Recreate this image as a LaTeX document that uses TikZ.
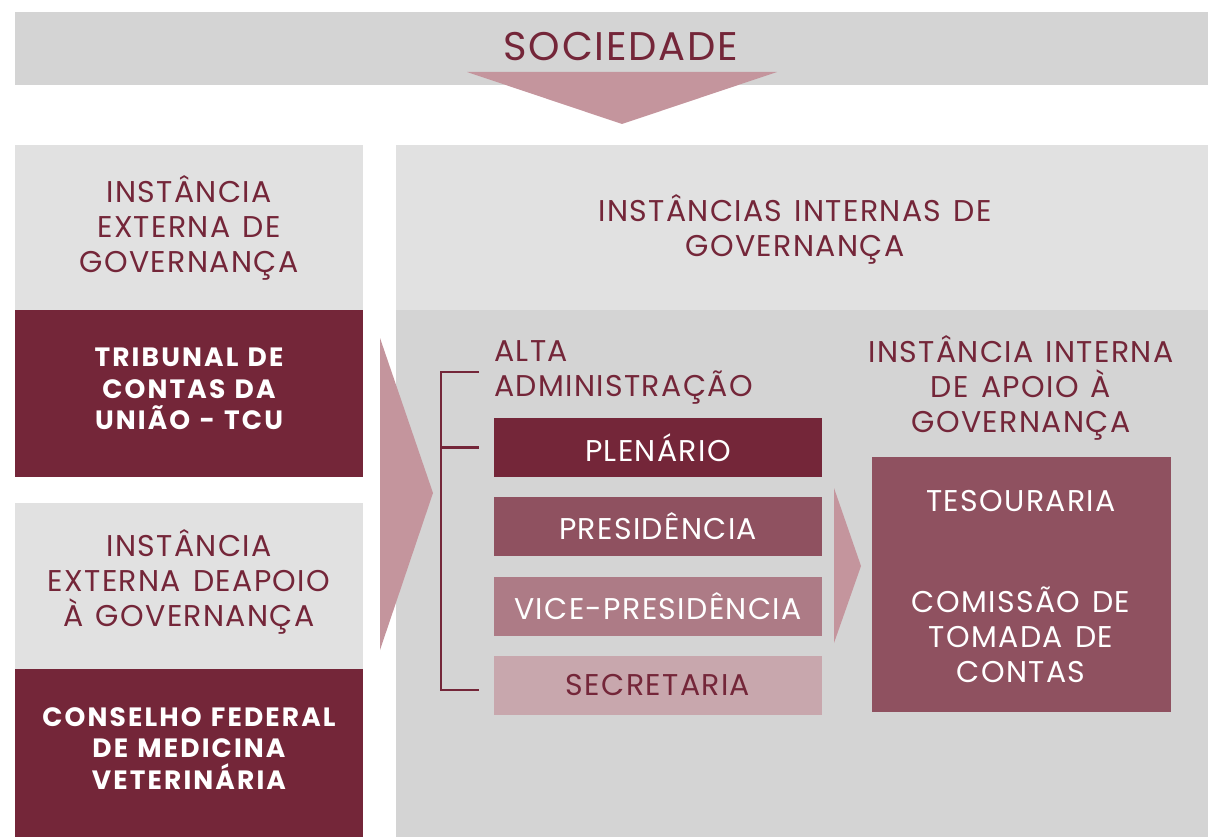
\documentclass[tikz,border=0pt]{standalone}
\usepackage{fontspec}
\setmainfont{Poppins}[LetterSpace = 4.5, WordSpace = 1.3]
\newfontfamily\negrito{Poppins}[LetterSpace = 8, WordSpace = 1.2]

\definecolor{vinho}{HTML}{742639}
\definecolor{vinhomedio}{HTML}{8F5160}
\definecolor{vinhoclaro}{HTML}{AD7B86}
\definecolor{rosa}{HTML}{C8A7AD}
\definecolor{seta}{HTML}{C4959D}
\definecolor{cinza}{HTML}{D4D4D4}
\definecolor{cinzaclaro}{HTML}{E1E1E1}

\tikzstyle{rotulo} = [text = vinho, align = center, inner sep = 0pt, font = \fontsize{30}{35}\selectfont]
\tikzstyle{forte}  = [rotulo, text = white, font = \fontsize{26.5}{31.5}\negrito\bfseries]
\tikzstyle{caixa}  = [rotulo, text = white, minimum width = 328pt, minimum height = 59pt]
\tikzstyle{chave}  = [draw = vinho, line width = 2.2pt]

\begin{document}
\begin{tikzpicture}[x = 1pt, y = -1pt]
        \useasboundingbox (0, 0) rectangle (1208, 837);

        % Sociedade
        \fill[cinza] (15, 12) rectangle (1208, 85);
        \fill[seta] (467, 72) -- (777, 72) -- (622, 124) -- cycle;
        \node (sociedade) at (621, 47) [rotulo, font = \fontsize{40}{45}\selectfont] {SOCIEDADE};

        % Instancias externas
        \fill[cinzaclaro] (15, 145) rectangle (363, 310);
        \fill[vinho]      (15, 310) rectangle (363, 477);
        \fill[cinzaclaro] (15, 503) rectangle (363, 669);
        \fill[vinho]      (15, 669) rectangle (363, 837);
        \node (externa)  at (189, 227.5) [rotulo] {INSTÂNCIA\\EXTERNA DE\\GOVERNANÇA};
        \node (tcu)      at (189, 389)   [forte]  {TRIBUNAL DE\\CONTAS DA\\UNIÃO - TCU};
        \node (apoioext) at (189, 582)   [rotulo] {INSTÂNCIA\\EXTERNA DEAPOIO\\À GOVERNANÇA};
        \node (cfmv)     at (189, 748.5) [forte]  {CONSELHO FEDERAL\\DE MEDICINA\\VETERINÁRIA};

        % Instancias internas
        \fill[cinzaclaro] (396, 145) rectangle (1208, 310);
        \fill[cinza] (396, 310) rectangle (1208, 837);
        \node (internas) at (795, 229.5) [rotulo] {INSTÂNCIAS INTERNAS DE\\GOVERNANÇA};

        \fill[seta] (380, 338) -- (433, 493) -- (380, 650) -- cycle;

        % Alta administracao
        \node (alta) at (494, 372) [rotulo, anchor = west, align = left] {ALTA\\ADMINISTRAÇÃO};
        \foreach \nome/\y/\cor/\texto in {plenario/447.5/vinho/PLENÁRIO, presidencia/526.5/vinhomedio/PRESIDÊNCIA, vice/606.5/vinhoclaro/VICE-PRESIDÊNCIA}
        {
          \node (\nome) at (658, \y) [caixa, fill = \cor] {\texto};
        }
        \node (secretaria) at (658, 685.5) [caixa, fill = rosa, text = vinho] {SECRETARIA};

        \draw[chave] ([xshift = -15pt] alta.west) -| ([xshift = -53pt, yshift = -4.5pt] secretaria.west) -- ([xshift = -15pt, yshift = -4.5pt] secretaria.west);
        \draw[chave] ([xshift = -53pt] plenario.west) -- ([xshift = -15pt] plenario.west);

        \fill[seta] (834, 488) -- (861, 566) -- (834, 643) -- cycle;

        % Apoio interno
        \node (apoioint) at (1021, 388) [rotulo] {INSTÂNCIA INTERNA\\DE APOIO À\\GOVERNANÇA};
        \node (apoiobox) at (1021.5, 584.5) [fill = vinhomedio, minimum width = 299pt, minimum height = 255pt] {};
        \node (tesouraria) at (1021, 501) [rotulo, text = white] {TESOURARIA};
        \node (comissao)   at (1021, 635) [rotulo, text = white] {COMISSÃO DE\\TOMADA DE\\CONTAS};
\end{tikzpicture}
\end{document}
